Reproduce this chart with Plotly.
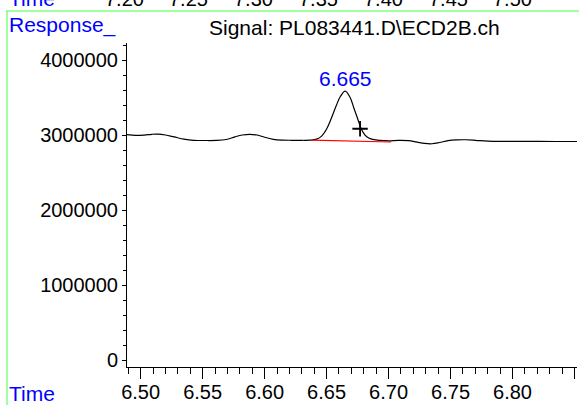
import plotly.graph_objects as go

# chromatogram trace (minutes, response counts)
time = [6.489, 6.496, 6.503, 6.509, 6.514, 6.520, 6.527, 6.535, 6.543, 6.552,
        6.561, 6.569, 6.576, 6.582, 6.588, 6.594, 6.600, 6.607, 6.614, 6.622,
        6.630, 6.637, 6.642, 6.646, 6.650, 6.654, 6.658, 6.661, 6.665, 6.669,
        6.672, 6.675, 6.678, 6.681, 6.684, 6.688, 6.693, 6.700, 6.708, 6.716,
        6.723, 6.729, 6.735, 6.741, 6.748, 6.755, 6.762, 6.770, 6.780, 6.795,
        6.815, 6.835, 6.852]
response = [3005000, 2995000, 3000000, 3010000, 3012000, 3000000, 2975000, 2945000, 2930000, 2927000,
            2928000, 2940000, 2975000, 3000000, 3010000, 3000000, 2970000, 2943000, 2932000, 2930000,
            2930000, 2932000, 2945000, 2985000, 3080000, 3230000, 3400000, 3510000, 3585000, 3500000,
            3360000, 3220000, 3080000, 3000000, 2960000, 2938000, 2928000, 2922000, 2928000, 2925000,
            2905000, 2888000, 2884000, 2900000, 2925000, 2935000, 2937000, 2930000, 2918000, 2915000,
            2915000, 2914000, 2914000]

# integration baseline and peak marker
base_time = [6.638, 6.702]
base_resp = [2933000, 2907000]
mark_time = [6.677]
mark_resp = [3084000]
peak_label = "6.665"
peak_label_pos = (6.665, 3757000)

x_ticks = [6.50, 6.55, 6.60, 6.65, 6.70, 6.75, 6.80, 6.85]
x_labels = ["6.50", "6.55", "6.60", "6.65", "6.70", "6.75", "6.80", ""]
y_ticks = [0, 1000000, 2000000, 3000000, 4000000]
y_labels = ["0", "1000000", "2000000", "3000000", "4000000"]
# labels of the panel above, cut off at the top edge
top_labels = ["7.20", "7.25", "7.30", "7.35", "7.40", "7.45", "7.50"]

FONT = "Liberation Sans, Arial, sans-serif"
W, H = 580, 405
L, R, T, B = 127, 3, 43, 38
pw, ph = W - L - R, H - T - B


def px(x):
    return (x - L) / pw


def py(y):
    return (H - B - y) / ph


def note(x, y, text, color="black", xanchor="center", size=21):
    return dict(x=px(x), y=py(y), xref="paper", yref="paper", text=text,
                xanchor=xanchor, yanchor="middle", showarrow=False,
                font=dict(size=size, color=color, family=FONT))


fig = go.Figure()
fig.add_trace(go.Scatter(x=time, y=response, mode="lines",
                         line=dict(color="black", width=1.2, shape="spline"),
                         hoverinfo="skip"))
fig.add_trace(go.Scatter(x=base_time, y=base_resp, mode="lines",
                         line=dict(color="#ff0000", width=1.2), hoverinfo="skip"))
fig.add_trace(go.Scatter(x=mark_time, y=mark_resp, mode="markers",
                         marker=dict(symbol="cross-thin", size=11,
                                     line=dict(color="black", width=1.8)),
                         hoverinfo="skip"))

ann = [
    dict(x=peak_label_pos[0], y=peak_label_pos[1], xref="x", yref="y", text=peak_label,
         xanchor="center", yanchor="middle",
         showarrow=False, font=dict(size=21, color="#0000ff", family=FONT)),
    note(354, 27, "Signal: PL083441.D\\ECD2B.ch"),
    note(7, 25, "Response_", color="#0000ff", xanchor="left"),
    note(7, 393, "Time", color="#0000ff", xanchor="left"),
    note(7, -2, "Time", color="#0000ff", xanchor="left"),
]
for i, lab in enumerate(top_labels):
    ann.append(note(124 + 64.8 * i, -1, lab, size=20))

green = "#80ff80"
shapes = [
    dict(type="line", xref="paper", yref="paper", x0=px(6), x1=px(579), y0=py(11), y1=py(11),
         line=dict(color=green, width=1.5)),
    dict(type="line", xref="paper", yref="paper", x0=px(7), x1=px(7), y0=py(11), y1=py(406),
         line=dict(color=green, width=1.5)),
]

fig.update_layout(
    width=W, height=H,
    margin=dict(l=L, r=R, t=T, b=B),
    paper_bgcolor="white", plot_bgcolor="white",
    showlegend=False,
    font=dict(family=FONT, size=20, color="black"),
    annotations=ann, shapes=shapes,
    xaxis=dict(range=[6.489, 6.852], tickvals=x_ticks, ticktext=x_labels,
               ticks="outside", ticklen=11, tickwidth=1, tickcolor="black",
               showline=True, linecolor="black", linewidth=1, showgrid=False, zeroline=False,
               minor=dict(dtick=0.01, tick0=6.49, ticks="outside", ticklen=6,
                          tickcolor="black", tickwidth=1, showgrid=False),
               tickfont=dict(size=20), automargin=False, ticklabelstandoff=-4),
    yaxis=dict(range=[-93000, 4227000], tickvals=y_ticks, ticktext=y_labels,
               ticks="outside", ticklen=4, tickwidth=1, tickcolor="black",
               showline=True, linecolor="black", linewidth=1, showgrid=False, zeroline=False,
               minor=dict(dtick=200000, tick0=0, ticks="outside", ticklen=3,
                          tickcolor="black", tickwidth=1, showgrid=False),
               tickfont=dict(size=20), automargin=False),
)

fig.write_html("out.html", config={"displayModeBar": False},
               post_script="document.body.style.margin='0';")
